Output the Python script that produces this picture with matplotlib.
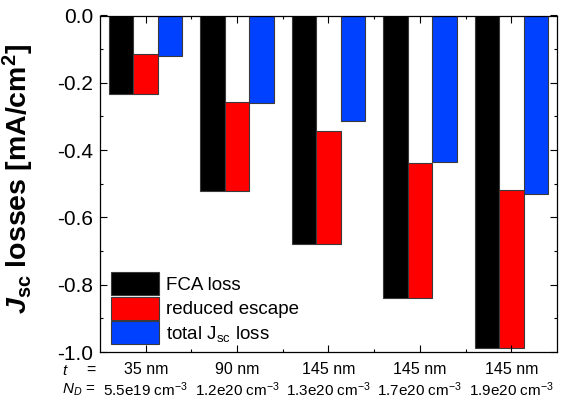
import matplotlib
matplotlib.use('Agg')
import matplotlib.pyplot as plt
import numpy as np
from matplotlib.ticker import MultipleLocator, FixedLocator, FormatStrFormatter

thickness = ['35 nm', '90 nm', '145 nm', '145 nm', '145 nm']
doping = ['5.5e19', '1.2e20', '1.3e20', '1.7e20', '1.9e20']
fca_loss = [-0.232, -0.523, -0.678, -0.840, -0.988]
reduced_escape = [0.119, 0.266, 0.335, 0.403, 0.470]
total_loss = [-0.119, -0.259, -0.313, -0.435, -0.529]

plt.rcParams.update({
    'font.family': ['Liberation Sans', 'DejaVu Sans'],
    'mathtext.fontset': 'custom',
    'mathtext.rm': 'Liberation Sans',
    'mathtext.it': 'Liberation Sans:italic',
    'mathtext.bf': 'Liberation Sans:bold',
    'mathtext.bfit': 'Liberation Sans:bold:italic',
    'axes.unicode_minus': False,
})

W, H = 565, 404
fig = plt.figure(figsize=(W / 100, H / 100), dpi=100)
ax = fig.add_axes([100 / W, 1 - 352 / H, 457 / W, (352 - 15.5) / H])

x = np.arange(len(thickness))
w = 0.267
ec = '#3a3a3a'
ax.bar(x - w, fca_loss, w, color='black', edgecolor=ec, lw=0.8, label='FCA loss')
ax.bar(x, reduced_escape, w, bottom=fca_loss, color='#FF0000', edgecolor=ec, lw=0.8,
       label='reduced escape')
ax.bar(x + w, total_loss, w, color='#0040FF', edgecolor=ec, lw=0.8,
       label=r'total J$_{\rm sc}$ loss')

ax.set_xlim(-0.5, len(x) - 0.5)
ax.set_ylim(-1.0, 0.0)

ax.set_xticks(x)
ax.set_xticklabels([])
ax.xaxis.set_minor_locator(FixedLocator(x[:-1] + 0.5))
ax.yaxis.set_major_locator(MultipleLocator(0.2))
ax.yaxis.set_minor_locator(MultipleLocator(0.1))
ax.yaxis.set_major_formatter(FormatStrFormatter('%.1f'))
ax.tick_params(which='both', direction='in', top=True, right=True, width=0.8)
ax.tick_params(which='major', length=4.8, labelsize=15, pad=5)
ax.tick_params(which='minor', length=2.4)
for s in ax.spines.values():
    s.set_linewidth(0.9)

tr = ax.get_xaxis_transform()
for xi, t, d in zip(x, thickness, doping):
    ax.text(xi, (352 - 370) / 336.5, t, transform=tr, ha='center', va='center', fontsize=11.5)
    ax.text(xi, (352 - 390) / 336.5, d + r' cm$^{-3}$', transform=tr, ha='center',
            va='center', fontsize=11)
fig.text(65 / W, 1 - 371 / H, r'$t$', ha='center', va='center', fontsize=11)
fig.text(91 / W, 1 - 370 / H, '=', ha='center', va='center', fontsize=11.5)
fig.text(95 / W, 1 - 390 / H, r'$N_D$ =', ha='right', va='center', fontsize=11)

ax.set_ylabel(r'$\mathbfit{J}_{\mathbf{sc}}$ losses [mA/cm$^{\mathbf{2}}$]',
              fontsize=20.5, fontweight='bold')
ax.yaxis.set_label_coords(-0.14, 0.515)

ax.legend(loc='lower left', bbox_to_anchor=(0.024, 0.024), frameon=False, fontsize=13.5,
          handlelength=2.56, handleheight=1.5, labelspacing=0.08, handletextpad=0.35,
          borderpad=0, borderaxespad=0)

fig.savefig('out.png', dpi=100)
